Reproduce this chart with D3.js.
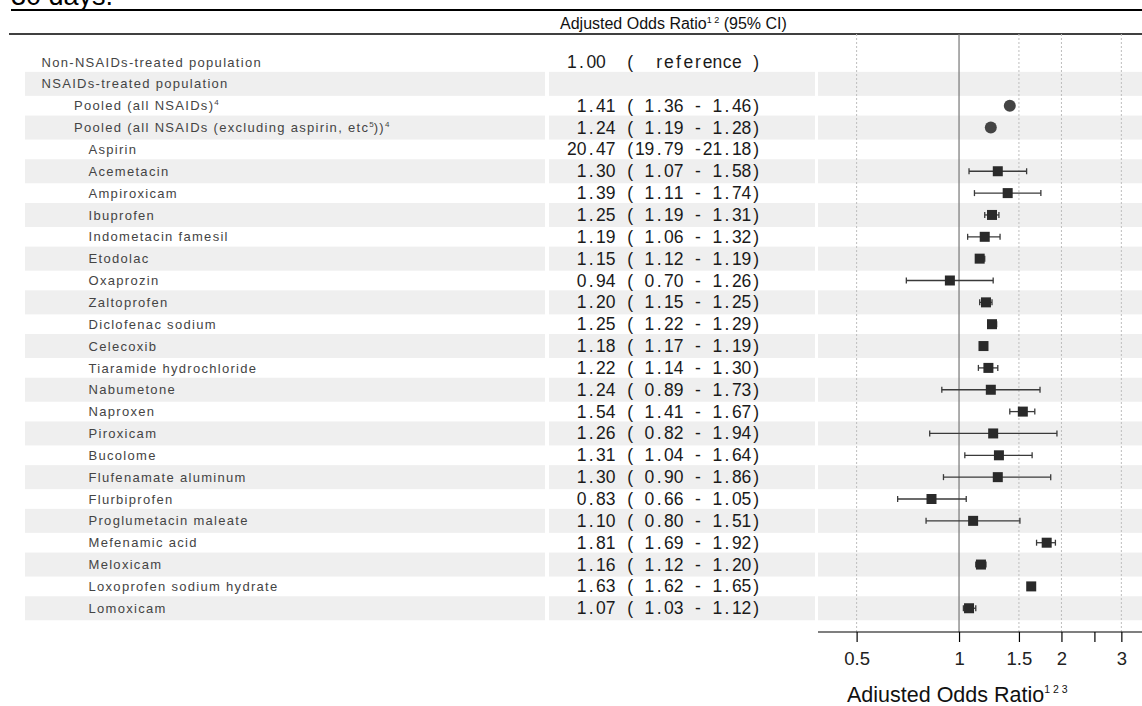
<!DOCTYPE html>
<html>
<head>
<meta charset="utf-8">
<script src="https://cdn.jsdelivr.net/npm/d3@7"></script>
<style>
  html, body { margin: 0; padding: 0; background: #fff; }
  svg { display: block; }
</style>
</head>
<body>
<svg id="chart" width="1142" height="706"></svg>
<script>
// ---------------- data ----------------
const rowLabels = [
  "Non-NSAIDs-treated population",
  "NSAIDs-treated population",
  "Pooled (all NSAIDs)",
  "Pooled (all NSAIDs (excluding aspirin, etc",
  "Aspirin",
  "Acemetacin",
  "Ampiroxicam",
  "Ibuprofen",
  "Indometacin famesil",
  "Etodolac",
  "Oxaprozin",
  "Zaltoprofen",
  "Diclofenac sodium",
  "Celecoxib",
  "Tiaramide hydrochloride",
  "Nabumetone",
  "Naproxen",
  "Piroxicam",
  "Bucolome",
  "Flufenamate aluminum",
  "Flurbiprofen",
  "Proglumetacin maleate",
  "Mefenamic acid",
  "Meloxicam",
  "Loxoprofen sodium hydrate",
  "Lomoxicam"
];
// superscript parts appended to labels: [text, isSuper]
const labelSuffixes = [
  [], [], [["4", true]], [["5", true], ["))", false], ["4", true]],
  [], [], [], [], [], [], [], [], [], [], [], [], [], [], [], [], [], [], [], [], [], []
];
const indentLevels = [0,0,1,1,2,2,2,2,2,2,2,2,2,2,2,2,2,2,2,2,2,2,2,2,2,2];
const oddsRatio = [1.00, null, 1.41, 1.24, 20.47, 1.30, 1.39, 1.25, 1.19, 1.15, 0.94, 1.20, 1.25, 1.18, 1.22, 1.24, 1.54, 1.26, 1.31, 1.30, 0.83, 1.10, 1.81, 1.16, 1.63, 1.07];
const ciLower   = [null, null, 1.36, 1.19, 19.79, 1.07, 1.11, 1.19, 1.06, 1.12, 0.70, 1.15, 1.22, 1.17, 1.14, 0.89, 1.41, 0.82, 1.04, 0.90, 0.66, 0.80, 1.69, 1.12, 1.62, 1.03];
const ciUpper   = [null, null, 1.46, 1.28, 21.18, 1.58, 1.74, 1.31, 1.32, 1.19, 1.26, 1.25, 1.29, 1.19, 1.30, 1.73, 1.67, 1.94, 1.64, 1.86, 1.05, 1.51, 1.92, 1.20, 1.65, 1.12];
const markerKind = ["none","none","circle","circle","square","square","square","square","square","square","square","square","square","square","square","square","square","square","square","square","square","square","square","square","square","square"];
const referenceText = "1.00  (  reference )";
const tickValues = [0.5, 1, 1.5, 2, 2.5, 3];
const tickLabels = ["0.5", "1", "1.5", "2", "", "3"];
const gridValues = [0.5, 1.5, 2, 3];

// ---------------- layout ----------------
const svg = d3.select("#chart");
const W = 1142, H = 706;
const rowY = d3.scaleLinear().domain([0, 25]).range([62, 608.25]);
const x = d3.scaleLog().domain([0.385, 3.45]).range([818, 1142]);
const plotTop = 34, axisY = 632;

// top title remnant and rules
svg.append("text").attr("x", 11).attr("y", 4.5)
  .style("font-family", "Liberation Sans, Arial, sans-serif").style("font-size", "27px").attr("fill", "#000")
  .text("30 days.");
svg.append("line").attr("x1", 11).attr("x2", W).attr("y1", 10).attr("y2", 10).attr("stroke", "#000").attr("stroke-width", 2);
svg.append("line").attr("x1", 9).attr("x2", W).attr("y1", 34).attr("y2", 34).attr("stroke", "#000").attr("stroke-width", 1.6);

// header
const hdr = svg.append("text").attr("x", 560).attr("y", 29)
  .style("font-family", "Liberation Sans, Arial, sans-serif").style("font-size", "16px").attr("fill", "#111");
hdr.append("tspan").text("Adjusted Odds Ratio");
hdr.append("tspan").attr("dy", -6).style("font-size", "9px").text("1 2");
hdr.append("tspan").attr("dy", 6).text(" (95% CI)");

// bands
const bandCols = [[25, 545], [549, 815], [818, W]];
const oddRows = d3.range(rowLabels.length).filter(i => i % 2 === 1);
const bandG = svg.append("g");
oddRows.forEach(i => {
  bandCols.forEach(([a, b]) => {
    bandG.append("rect").attr("x", a).attr("width", b - a)
      .attr("y", rowY(i) - 12).attr("height", 24).attr("fill", "#efefef");
  });
});

// gridlines
svg.append("g").selectAll("line").data(gridValues).join("line")
  .attr("x1", d => x(d)).attr("x2", d => x(d))
  .attr("y1", plotTop).attr("y2", axisY)
  .attr("stroke", "#bdbdbd").attr("stroke-width", 1).attr("stroke-dasharray", "2,2");
svg.append("line").attr("x1", x(1)).attr("x2", x(1)).attr("y1", plotTop).attr("y2", axisY)
  .attr("stroke", "#777").attr("stroke-width", 1.2);

// labels
const labelX = [41.5, 74, 88.5];
rowLabels.forEach((lab, i) => {
  const t = svg.append("text").attr("x", labelX[indentLevels[i]]).attr("y", rowY(i) + 4.6)
    .style("font-family", "Liberation Sans, Arial, sans-serif").style("font-size", "13px")
    .style("letter-spacing", "1.3px").attr("fill", "#444");
  t.append("tspan").text(lab);
  let raised = false;
  labelSuffixes[i].forEach(([s, sup]) => {
    const sp = t.append("tspan").text(s);
    if (sup && !raised) { sp.attr("dy", -5).style("font-size", "8px").style("letter-spacing", "0px"); raised = true; }
    else if (sup && raised) { sp.style("font-size", "8px").style("letter-spacing", "0px"); }
    else if (!sup && raised) { sp.attr("dy", 5); raised = false; }
  });
});

// numeric column (monospaced cells)
const cellW = 9.7, rightEdge = 761;
const pad5 = v => { const s = v.toFixed(2); return (" ".repeat(5) + s).slice(-5); };
function rowString(i) {
  if (i === 0) return referenceText;
  if (oddsRatio[i] == null) return null;
  return pad5(oddsRatio[i]) + " (" + pad5(ciLower[i]) + " -" + pad5(ciUpper[i]) + ")";
}
rowLabels.forEach((_, i) => {
  const s = rowString(i);
  if (!s) return;
  const n = s.length;
  const xs = d3.range(n).map(k => (rightEdge - (n - k - 0.5) * cellW).toFixed(2)).join(" ");
  svg.append("text").attr("x", xs).attr("y", rowY(i) + 6)
    .attr("xml:space", "preserve").style("white-space", "pre")
    .attr("text-anchor", "middle")
    .style("font-family", "Liberation Sans, Arial, sans-serif").style("font-size", "17.5px")
    .attr("fill", "#1a1a1a").text(s);
});

// CI whiskers and markers
const [dmin, dmax] = x.domain();
const inRange = v => v != null && v >= dmin && v <= dmax;
const marks = svg.append("g");
rowLabels.forEach((_, i) => {
  const est = oddsRatio[i];
  if (!inRange(est) || markerKind[i] === "none") return;
  const y = rowY(i);
  if (markerKind[i] === "square") {
    const lo = x(Math.max(ciLower[i], dmin)), hi = x(Math.min(ciUpper[i], dmax));
    marks.append("line").attr("x1", lo).attr("x2", hi).attr("y1", y).attr("y2", y)
      .attr("stroke", "#3a3a3a").attr("stroke-width", 1.3);
    [lo, hi].forEach(cx => marks.append("line").attr("x1", cx).attr("x2", cx)
      .attr("y1", y - 3).attr("y2", y + 3).attr("stroke", "#3a3a3a").attr("stroke-width", 1.3));
    marks.append("rect").attr("x", x(est) - 5).attr("y", y - 5).attr("width", 10).attr("height", 10)
      .attr("fill", "#2a2a2a");
  } else {
    marks.append("circle").attr("cx", x(est)).attr("cy", y).attr("r", 6).attr("fill", "#444");
  }
});

// axis
const axis = d3.axisBottom(x).tickValues(tickValues)
  .tickFormat((d, k) => tickLabels[k]).tickSize(10).tickPadding(8);
const axG = svg.append("g").attr("transform", `translate(0,${axisY})`).call(axis);
axG.select(".domain").attr("d", `M818,0H${W}`).attr("stroke", "#000").attr("stroke-width", 1.2);
axG.selectAll(".tick line").attr("stroke", "#000").attr("stroke-width", 1.2);
axG.selectAll(".tick text").style("font-family", "Liberation Sans, Arial, sans-serif")
  .style("font-size", "18.5px").attr("fill", "#222").attr("dy", null).attr("y", 33);

// axis title
const at = svg.append("text").attr("x", 847).attr("y", 702)
  .style("font-family", "Liberation Sans, Arial, sans-serif").style("font-size", "21.5px").attr("fill", "#111");
at.append("tspan").text("Adiusted Odds Ratio");
at.append("tspan").attr("dy", -9).style("font-size", "10.5px").text("1 2 3");
</script>
</body>
</html>
